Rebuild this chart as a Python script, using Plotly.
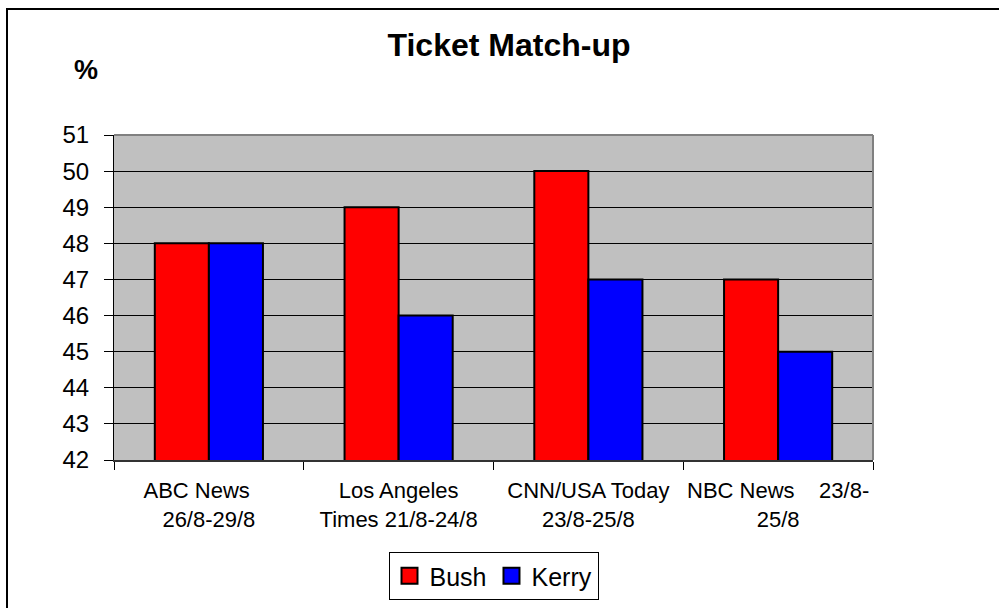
import plotly.graph_objects as go

categories = [
    "ABC News\u00a0\u00a0\u00a0\u00a0<br>26/8-29/8",
    "Los Angeles<br>Times 21/8-24/8",
    "CNN/USA Today<br>23/8-25/8",
    "NBC News\u00a0\u00a0\u00a0\u00a023/8-<br>25/8",
]
bush = [48, 49, 50, 47]
kerry = [48, 46, 47, 45]
y_ticks = list(range(42, 52))

FONT = "Liberation Sans, Arial, sans-serif"
BUSH_COLOR = "#FF0000"
KERRY_COLOR = "#0000FF"

fig = go.Figure()
fig.add_trace(go.Bar(name="Bush", x=categories, y=bush, showlegend=False,
                     marker=dict(color=BUSH_COLOR, line=dict(color="black", width=2))))
fig.add_trace(go.Bar(name="Kerry", x=categories, y=kerry, showlegend=False,
                     marker=dict(color=KERRY_COLOR, line=dict(color="black", width=2))))
# legend keys (square swatches like the original)
for name, col in [("Bush", BUSH_COLOR), ("Kerry", KERRY_COLOR)]:
    fig.add_trace(go.Scatter(name=name, x=[None], y=[None], mode="markers",
                             marker=dict(symbol="square", size=16, color=col,
                                         line=dict(color="black", width=2)),
                             hoverinfo="skip"))

L, R, T, B = 114, 126, 135, 148
W, H = 999, 608
pw, ph = W - L - R, H - T - B

def px(x):
    return (x - L) / pw

def py(y):
    return (H - B - y) / ph

fig.update_layout(
    width=W, height=H,
    margin=dict(l=L, r=R, t=T, b=B, autoexpand=False),
    paper_bgcolor="white",
    plot_bgcolor="#C0C0C0",
    barmode="group",
    bargap=0.43,
    bargroupgap=0,
    font=dict(family=FONT, color="black"),
    title=dict(text="Ticket Match-up", x=509 / W, xref="container", xanchor="center",
               y=1 - 45 / H, yref="container", yanchor="middle",
               font=dict(size=32, family=FONT, weight="bold", color="black")),
    showlegend=True,
    legend=dict(orientation="h", x=0.5, xanchor="center", y=py(600), yanchor="bottom",
                bordercolor="black", borderwidth=1, bgcolor="white",
                font=dict(size=25, family=FONT), itemclick=False,
                itemwidth=30, tracegroupgap=0),
    xaxis=dict(type="category", tickson="boundaries", ticks="outside", ticklen=8,
               tickcolor="black", tickwidth=1, showline=True, linecolor="#333333",
               linewidth=2, showgrid=False, tickfont=dict(size=22, family=FONT),
               tickangle=0, automargin=False, ticklabelstandoff=10, fixedrange=True),
    yaxis=dict(range=[42, 51], tickvals=y_ticks, ticks="outside", ticklen=9,
               tickcolor="black", tickwidth=1, showline=True, linecolor="black",
               linewidth=1, showgrid=True, gridcolor="black", gridwidth=1,
               tickfont=dict(size=24, family=FONT), ticklabelstandoff=10,
               zeroline=False, automargin=False, fixedrange=True),
    annotations=[dict(text="<b>%</b>", x=px(86), y=py(70), xref="paper", yref="paper",
                      xanchor="center", yanchor="middle",
                      showarrow=False, font=dict(size=27, family=FONT))],
    shapes=[
        dict(type="line", xref="paper", yref="paper", x0=0, x1=1, y0=1, y1=1,
             line=dict(color="#808080", width=2)),
        dict(type="line", xref="paper", yref="paper", x0=1, x1=1, y0=0, y1=1,
             line=dict(color="#808080", width=2)),
        dict(type="rect", xref="paper", yref="paper", x0=px(7), x1=px(1010),
             y0=py(620), y1=py(9), line=dict(color="black", width=2)),
    ],
)

fig.write_html("out.html", config={"displayModeBar": False})
